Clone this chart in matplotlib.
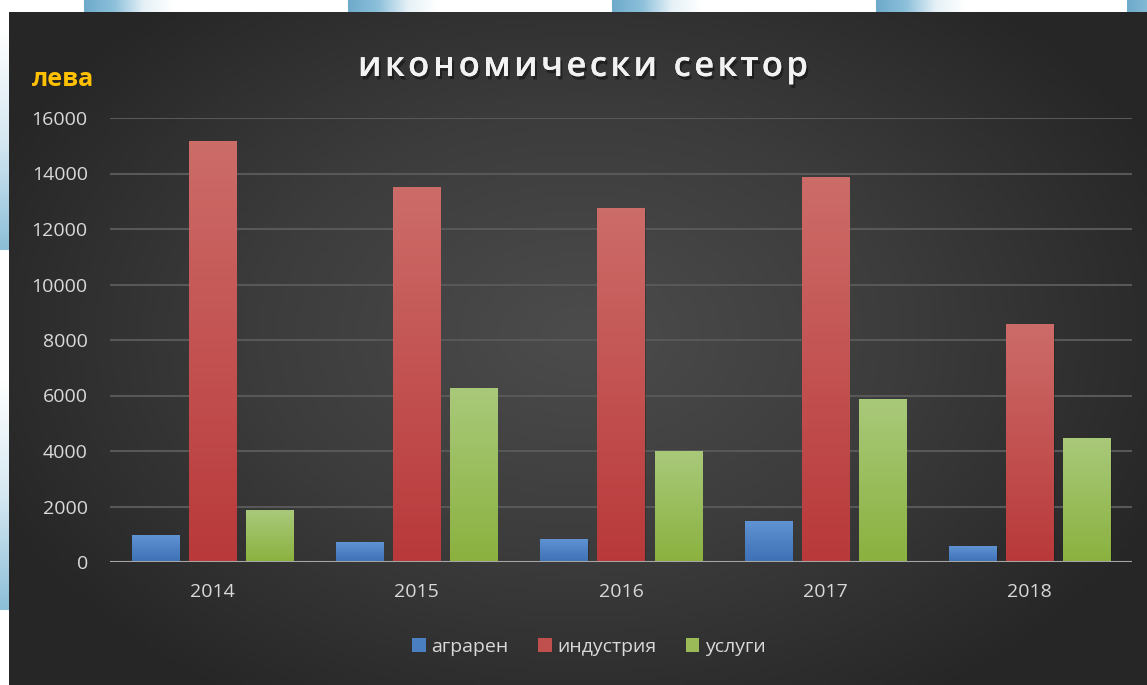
import numpy as np
import matplotlib
matplotlib.use("Agg")
import matplotlib.pyplot as plt
from matplotlib import patheffects as pe
from matplotlib.colors import LinearSegmentedColormap
from matplotlib.patches import Patch

# data
years = ['2014', '2015', '2016', '2017', '2018']
agraren = [950, 720, 800, 1450, 550]
industriya = [15150, 13500, 12750, 13850, 8550]
uslugi = [1850, 6250, 4000, 5850, 4450]
series_names = ['аграрен', 'индустрия', 'услуги']
yticks = [0, 2000, 4000, 6000, 8000, 10000, 12000, 14000, 16000]

# (top colour, bottom colour, legend colour)
bar_colors = [('#5f93d3', '#3d70b5', '#4a7fc1'),
              ('#cc6c69', '#b9393a', '#c0504d'),
              ('#a9c97a', '#8bb13f', '#9bbb59')]

W, H = 1147, 685
fig = plt.figure(figsize=(W / 100, H / 100), dpi=100)
fig.patch.set_facecolor('white')

# background: white page with blue decorations, dark chart panel with radial gradient
bg = fig.add_axes([0, 0, 1, 1], zorder=-10)
bg.axis('off')

blue_fade = LinearSegmentedColormap.from_list('bf', ['#6eaacb', '#8cc0da', '#e6f1f7', '#ffffff'])
strip = np.linspace(0, 1, 200).reshape(1, -1)
for x0 in [84, 348, 612, 876, 1127]:
    bg.imshow(strip, cmap=blue_fade, extent=[x0, x0 + 90, 12, 0], aspect='auto')
strip_v = np.linspace(0, 1, 200).reshape(-1, 1)
for y0, y1 in [(30, 250), (380, 610)]:
    bg.imshow(strip_v, cmap=LinearSegmentedColormap.from_list('lv', ['#ffffff', '#d6e8f2', '#8cbfd8']),
              extent=[0, 9, y1, y0], aspect='auto')

yy, xx = np.mgrid[0:200, 0:300]
r = np.sqrt(((xx - 150) / 170.0) ** 2 + ((yy - 95) / 130.0) ** 2)
r = np.clip(r, 0, 1)
panel_cmap = LinearSegmentedColormap.from_list('panel', ['#4c4c4c', '#3c3c3c', '#262626'])
bg.imshow(r, cmap=panel_cmap, extent=[9, W, H, 12], aspect='auto')
bg.set_xlim(0, W)
bg.set_ylim(H, 0)

ax = fig.add_axes([110 / W, 1 - 562 / H, (1132 - 110) / W, (562 - 118) / H])
ax.set_facecolor('none')

x = np.arange(len(years))
width = 0.23
offsets = [-0.279, 0, 0.279]
all_series = [agraren, industriya, uslugi]

grad = np.linspace(1, 0, 100).reshape(-1, 1)
for vals, off, (ctop, cbot, cleg) in zip(all_series, offsets, bar_colors):
    bars = ax.bar(x + off, vals, width, color=cleg, zorder=3, linewidth=0)
    cm = LinearSegmentedColormap.from_list('g', [cbot, ctop])
    for rect in bars:
        x0, w, h = rect.get_x(), rect.get_width(), rect.get_height()
        # soft shadow
        ax.bar(x0 + w / 2 + 0.006, h, w, bottom=-60, color='black', alpha=0.18, zorder=2, linewidth=0)
        ax.imshow(grad, cmap=cm, extent=[x0, x0 + w, 0, h], aspect='auto', zorder=3.5)

ax.set_xlim(-0.5, 4.5)
ax.set_ylim(0, 16000)
ax.set_yticks(yticks)
ax.set_xticks(x)
ax.set_xticklabels(years)
ax.yaxis.grid(True, color='#585858', linewidth=1.5, zorder=0)
ax.axhline(0, color='#a6a6a6', linewidth=2.2, zorder=4)
for s in ax.spines.values():
    s.set_visible(False)
ax.tick_params(axis='y', length=0, colors='#d9d9d9', labelsize=14, pad=16)
ax.tick_params(axis='x', length=0, colors='#d9d9d9', labelsize=14, pad=15)
for lab in ax.get_xticklabels() + ax.get_yticklabels():
    lab.set_fontfamily('Open Sans')

# unit label
fig.text(32 / W, 1 - 86 / H, 'лева', color='#ffc000', fontsize=18, fontweight='bold',
         family='Open Sans', ha='left', va='baseline')

# title with letter spacing
title = 'икономически сектор'
fig.canvas.draw()
renderer = fig.canvas.get_renderer()
fs = 25
widths = []
for ch in title:
    t = fig.text(0, 0, ch if ch != ' ' else 'i', fontsize=fs, fontweight='semibold', family='Open Sans')
    widths.append(t.get_window_extent(renderer).width)
    t.remove()
target = 450
spacing = (target - sum(widths)) / (len(title) - 1)
xpos = 358
shadow = [pe.withSimplePatchShadow(offset=(1.5, -2.5), shadow_rgbFace='black', alpha=0.4), pe.Normal()]
for ch, w in zip(title, widths):
    if ch != ' ':
        fig.text(xpos / W, 1 - 76 / H, ch, fontsize=fs, fontweight='semibold', family='Open Sans',
                 color='#f2f2f2', ha='left', va='baseline', path_effects=shadow)
    xpos += w + spacing

handles = [Patch(facecolor=c[2], edgecolor='none') for c in bar_colors]
leg = fig.legend(handles, series_names, loc='center', bbox_to_anchor=(589 / W, 1 - 647 / H),
                 ncol=3, frameon=False, handlelength=0.7, handleheight=0.7,
                 handletextpad=0.3, columnspacing=1.5, prop={'family': 'Open Sans', 'size': 14})
for t in leg.get_texts():
    t.set_color('#d9d9d9')

fig.savefig('out.png', dpi=100)
